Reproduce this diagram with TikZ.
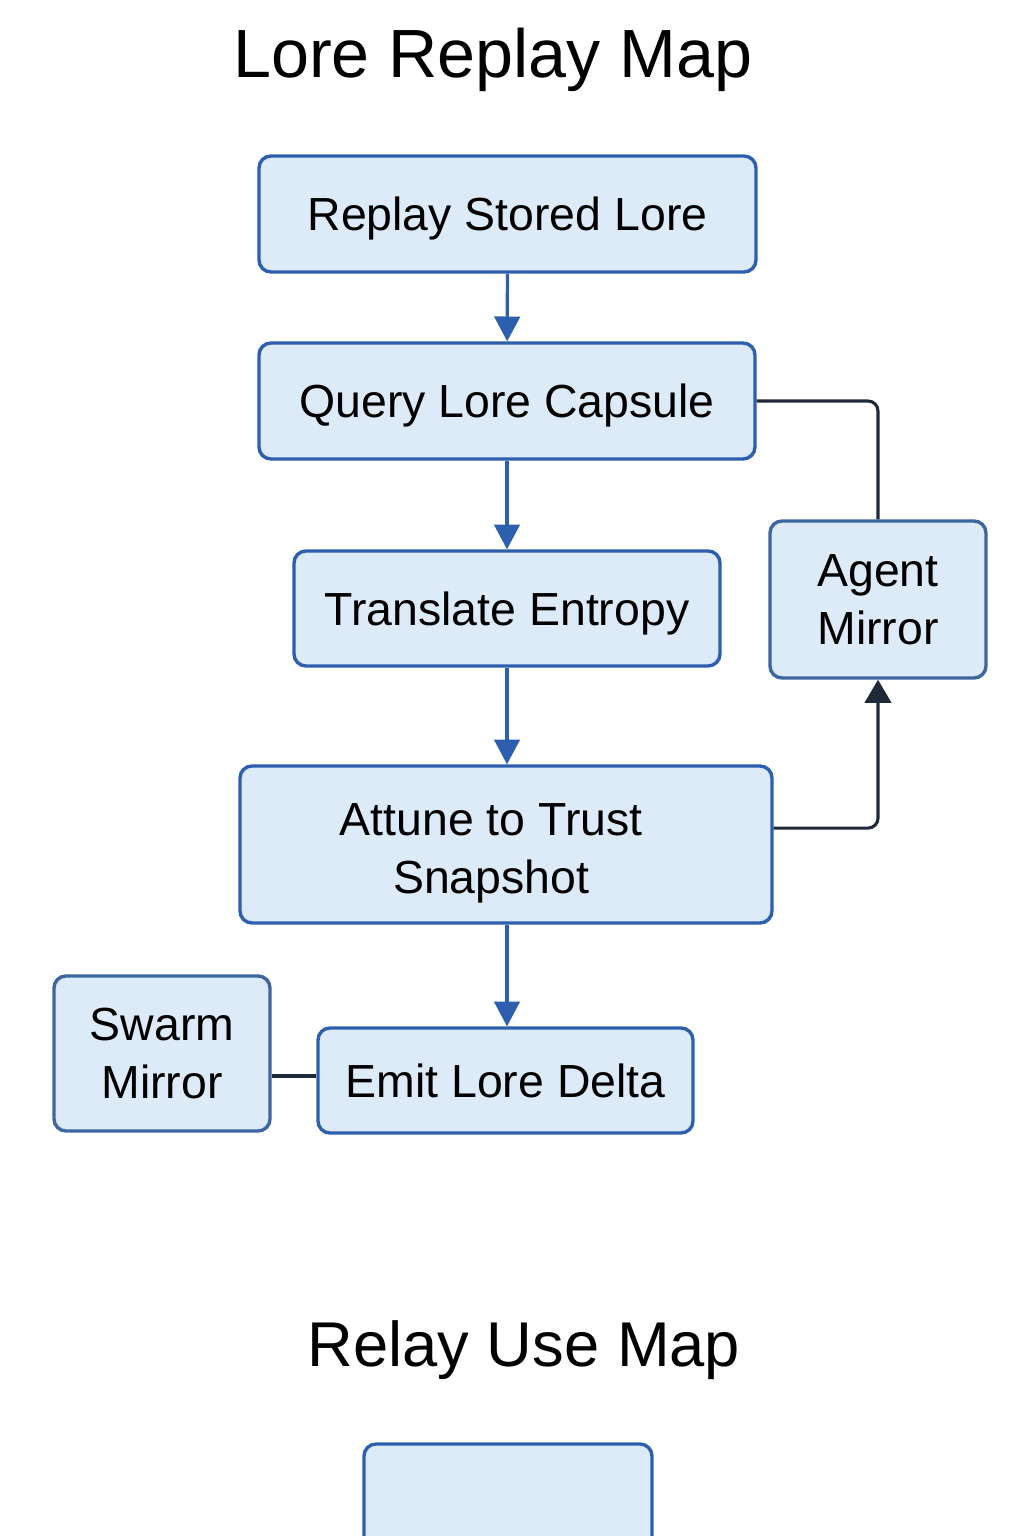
\documentclass[tikz,border=0pt]{standalone}
\usepackage{fontspec}
\setmainfont{Liberation Sans}
\usepackage{xcolor}
\usetikzlibrary{arrows.meta}

\definecolor{boxfill}{HTML}{DDEAF7}
\definecolor{boxline}{HTML}{2E5EAE}
\definecolor{mirrorline}{HTML}{3D65A0}
\definecolor{linkdark}{HTML}{1F2937}

\def \u {0.025cm}

\tikzset{
  boxtext/.style={font=\fontsize{33}{41}\selectfont, align=center},
  box/.style={draw=boxline, fill=boxfill, line width=2.4pt, rounded corners=0.3cm,
    boxtext, inner sep=0pt},
  single/.style={box, text depth=0pt},
  mirror/.style={box, draw=mirrorline},
  flow/.style={draw=boxline, line width=2.2pt, -{Triangle[length=0.62cm,width=0.64cm]}},
  link/.style={draw=linkdark, line width=2.2pt, rounded corners=0.25cm},
}

\begin{document}
\begin{tikzpicture}[x=0.025cm, y=-0.025cm]

\useasboundingbox (0,0) rectangle (1024,1536);

% titles
\node[font=\fontsize{48.5}{58}\selectfont] (title) at (493,60) {Lore Replay Map};
\node[font=\fontsize{45}{54}\selectfont] (subtitle) at (524,1350) {Relay Use Map};

% main column
\node[single, minimum width=497*\u, minimum height=116*\u] (replay) at (507.5,214) {Replay Stored Lore};
\node[single, minimum width=496*\u, minimum height=116*\u] (query) at (507,401) {Query Lore Capsule};
\node[single, minimum width=426*\u, minimum height=115*\u] (translate) at (507,608.5) {Translate Entropy};
\node[box, minimum width=532*\u, minimum height=157*\u,
  label={[boxtext, xshift=-0.37cm, yshift=-0.22cm]center:Attune to Trust\\Snapshot}] (attune) at (506,844.5) {};
\node[single, minimum width=375*\u, minimum height=105*\u] (emit) at (505.5,1080.5) {Emit Lore Delta};

% mirrors
\node[mirror, minimum width=216*\u, minimum height=157*\u] (agent) at (878,599.5) {Agent\\Mirror};
\node[mirror, minimum width=216*\u, minimum height=155*\u] (swarm) at (162,1053.5) {Swarm\\Mirror};

% second map
\node[box, minimum width=288*\u, minimum height=110*\u] (relay) at (508,1499) {};

\draw[flow] (replay) -- (query);
\draw[flow] (query) -- (translate);
\draw[flow] (translate.south) -- (translate.south |- attune.north);
\draw[flow] (attune.south -| translate.south) -- (emit.north -| translate.south);

\draw[link] (query.east) -| (agent.north);
\draw[link, -{Triangle[length=0.58cm,width=0.66cm]}] ([yshift=0.41cm]attune.east) -| (agent.south);
\draw[link] (swarm.east |- 0,1076) -- (emit.west |- 0,1076);

\end{tikzpicture}
\end{document}
